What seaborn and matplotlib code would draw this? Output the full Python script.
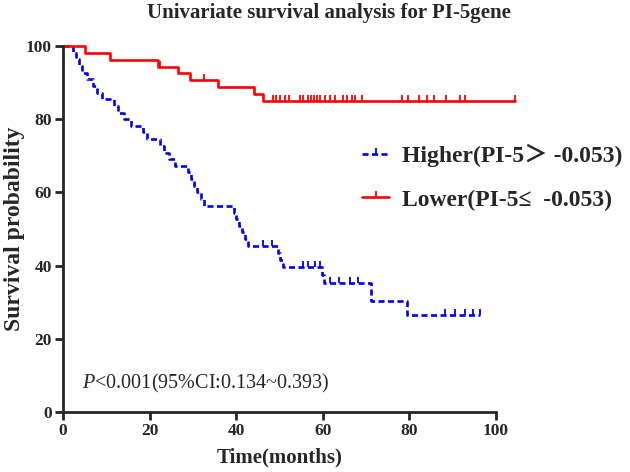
import numpy as np
import pandas as pd
import matplotlib
matplotlib.use("Agg")
import matplotlib.pyplot as plt
import seaborn as sns
from matplotlib.lines import Line2D

# ---------------- data ----------------
high_event_t = [2.4, 3.0, 3.7, 4.5, 5.6, 6.9, 7.9, 8.9,
                11.8, 12.8, 14.0, 15.6, 18.4, 19.4,
                22.5, 23.4, 24.5, 25.8,
                28.8, 29.5, 30.3, 31.0, 31.8, 32.6,
                39.4, 40.0, 40.6, 41.3, 42.0, 42.7,
                49.7, 50.2, 50.8, 59.8, 60.2, 71.1, 79.4]
high_surv = [98.2, 96.4, 94.5, 92.7, 90.9, 89.1, 87.3, 85.5,
             83.6, 81.8, 80.0, 78.2, 76.4, 74.5,
             72.7, 70.9, 69.1, 67.3,
             65.5, 63.6, 61.8, 60.0, 58.2, 56.4,
             54.5, 52.7, 50.9, 49.1, 47.3, 45.5,
             43.5, 41.6, 39.6, 37.4, 35.2, 30.4, 26.4]
high_censor_t = [46.2, 48.3, 55.4, 56.6, 58.2, 59.4, 61.7, 63.8, 66.2, 68.1,
                 88.2, 90.5, 92.8, 94.7, 96.3]

low_event_t = [5.1, 10.9, 21.9, 26.6, 29.3, 35.8, 44.1, 46.2]
low_surv = [98.1, 96.2, 94.3, 92.5, 90.6, 88.7, 86.8, 84.9]
low_censor_t = [22.5, 32.5, 48.5, 49.2, 50.1, 51.3, 52.2, 54.7, 55.4, 56.6,
                57.3, 57.9, 58.7, 59.4, 60.5, 61.7, 62.8, 64.7, 65.6, 66.7,
                67.4, 69.0, 78.3, 79.7, 82.2, 84.1, 85.7, 88.5, 91.7, 92.8,
                104.4]

labels = ["Higher(PI-5\uff1e -0.053)", "Lower(PI-5\u2264  -0.053)"]
colors = ["#0000ee", "#ff0000"]
x_ticks = [0, 20, 40, 60, 80, 100]
y_ticks = [0, 20, 40, 60, 80, 100]


def step_frame(ev_t, ev_s, cens_t, group):
    end_t = max(max(ev_t), max(cens_t))
    t = [0.0] + list(ev_t) + [end_t]
    s = [100.0] + list(ev_s) + [ev_s[-1]]
    return pd.DataFrame({"time": t, "surv": s, "group": group})


def surv_at(ev_t, ev_s, times):
    out = []
    for tt in times:
        v = 100.0
        for et, es in zip(ev_t, ev_s):
            if et <= tt:
                v = es
        out.append(v)
    return out


sns.set_style("ticks")
plt.rcParams["font.family"] = ["Liberation Serif", "Noto Sans CJK SC", "DejaVu Sans"]
plt.rcParams["mathtext.fontset"] = "custom"
plt.rcParams["mathtext.it"] = "Liberation Serif:italic"
plt.rcParams["mathtext.rm"] = "Liberation Serif"

fig = plt.figure(figsize=(6.3, 4.72), dpi=100)
ax = fig.add_axes([0.1, 0.127, 0.687, 0.7755])

dash = (0, (2.3, 1.3))
groups = [
    (high_event_t, high_surv, high_censor_t, labels[0], colors[0], dash),
    (low_event_t, low_surv, low_censor_t, labels[1], colors[1], "-"),
]

for ev_t, ev_s, c_t, lab, col, ls in groups:
    df = step_frame(ev_t, ev_s, c_t, lab)
    sns.lineplot(data=df, x="time", y="surv", ax=ax, color=col,
                 drawstyle="steps-post", estimator=None, linewidth=1.9,
                 legend=False)
    line = ax.lines[-1]
    line.set_linestyle(ls)
    line.set_clip_on(False)
    cs = surv_at(ev_t, ev_s, c_t)
    ax.plot(c_t, cs, linestyle="none", marker=2, markersize=4.5,
            markeredgewidth=1.3, color=col, clip_on=False)

ax.set_xlim(0, 100)
ax.set_ylim(0, 100)
ax.set_xticks(x_ticks)
ax.set_yticks(y_ticks)
ax.set_xticklabels([str(v) for v in x_ticks], fontweight="bold", fontsize=12.5)
ax.set_yticklabels([str(v) for v in y_ticks], fontweight="bold", fontsize=12.5)
ax.tick_params(axis="both", direction="out", length=6, width=2.0, pad=2)
for sp in ["left", "bottom"]:
    ax.spines[sp].set_linewidth(2.0)
for sp in ["top", "right"]:
    ax.spines[sp].set_visible(False)

ax.set_xlabel("Time(months)", fontweight="bold", fontsize=15, labelpad=6)
ax.set_ylabel("Survival probability", fontweight="bold", fontsize=17)
ax.yaxis.set_label_coords(-0.087, 0.5)
fig.text(0.522, 0.993, "Univariate survival analysis for PI-5gene",
         ha="center", va="top", fontweight="bold", fontsize=15)

ax.text(4.4, 7.9, r"$P$<0.001(95%CI:0.134~0.393)", ha="left", va="center",
        fontsize=14.5)

handles = [
    Line2D([0], [0], color=colors[0], linestyle=dash, linewidth=1.9,
           marker=2, markersize=4.5, markeredgewidth=1.3),
    Line2D([0], [0], color=colors[1], linestyle="-", linewidth=1.9,
           marker=2, markersize=4.5, markeredgewidth=1.3),
]
fig.legend(handles, labels, loc="upper left", bbox_to_anchor=(0.575, 0.695),
           frameon=False, prop={"weight": "bold", "size": 17},
           handlelength=1.15, handletextpad=0.55, labelspacing=0.93,
           borderpad=0, borderaxespad=0, numpoints=1)

fig.savefig("out.png", dpi=100)
